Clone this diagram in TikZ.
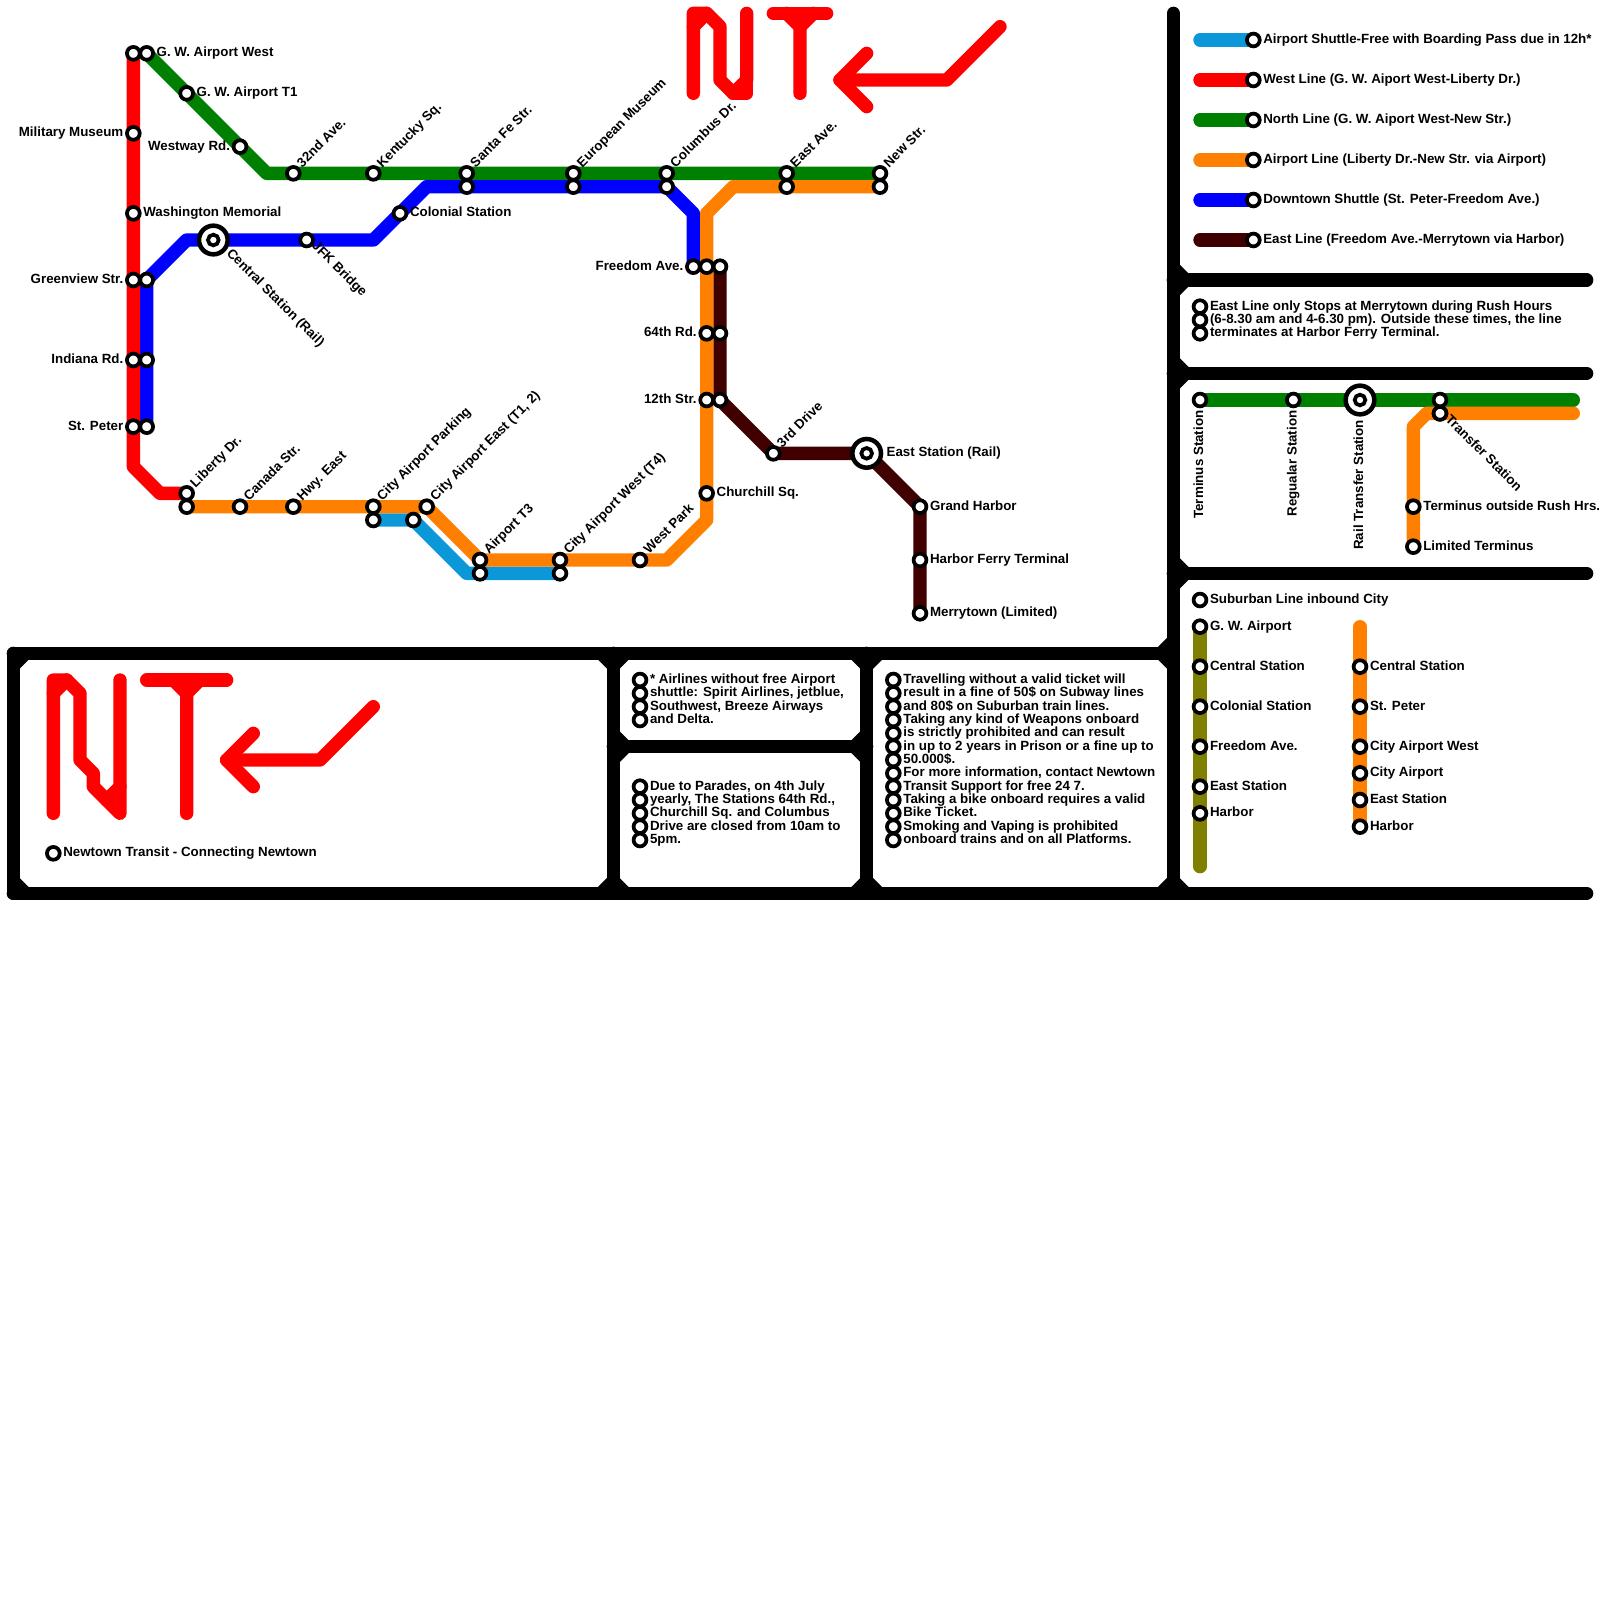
\documentclass[tikz,border=0pt]{standalone}
\usepackage{fontspec}
\setmainfont{Liberation Sans}
\definecolor{cRed}{HTML}{FF0000}
\definecolor{cGreen}{HTML}{008000}
\definecolor{cBlue}{HTML}{0000FF}
\definecolor{cOrange}{HTML}{FF8000}
\definecolor{cBrown}{HTML}{400000}
\definecolor{cShuttle}{HTML}{0C98D8}
\definecolor{cOlive}{HTML}{808000}
\tikzset{
  route/.style={line width=10pt,line cap=round,line join=round},
  frameline/.style={route,draw=black},
  stn/.style={circle,draw=black,fill=white,line width=2.8pt,minimum size=9.6pt,inner sep=0pt,outer sep=0pt},
  hub/.style={circle,draw=black,fill=white,line width=3.4pt,minimum size=21.5pt,inner sep=0pt,outer sep=0pt},
  lab/.style={inner sep=0pt,outer sep=0pt,font=\fontsize{10}{10}\selectfont\bfseries,text=black},
  lblE/.style={lab,anchor=base west,xshift=7.5pt,yshift=-2.6pt},
  lblW/.style={lab,anchor=base east,xshift=-7.5pt,yshift=-2.6pt},
  lblNE/.style={lab,anchor=base west,xshift=6.8pt,yshift=4pt,rotate=45},
  lblSE/.style={lab,anchor=base west,xshift=3.6pt,yshift=-5.1pt,rotate=-45},
  lblS/.style={lab,anchor=base east,xshift=2.4pt,yshift=-8pt,rotate=90},
}
\begin{document}
\begin{tikzpicture}[x=10pt,y=-10pt]
\useasboundingbox (0,0) rectangle (120,120);
\fill[white] (0,0) rectangle (120,120);
% ---------- frame ----------
\foreach \n/\x/\y in {fa/1/49,fb/46/49,fc/65/49,fd/88/49,fe/1/67,ff/46/67,fg/65/67,fh/88/67,fi/119/67,
  fj/88/1,fk/88/21,fl/119/21,fm/88/28,fn/119/28,fo/88/43,fp/119/43,fq/46/56,fr/65/56}
  \coordinate (\n) at (\x,\y);
\draw[frameline] (fj) -- (fh);
\draw[frameline] (fa) -- (fd);
\draw[frameline] (fe) -- (fi);
\draw[frameline] (fa) -- (fe);
\draw[frameline] (fb) -- (ff);
\draw[frameline] (fc) -- (fg);
\draw[frameline] (fq) -- (fr);
\draw[frameline] (fk) -- (fl);
\draw[frameline] (fm) -- (fn);
\draw[frameline] (fo) -- (fp);
\foreach \x/\y/\a/\b in {1/49/1/1,46/49/-1/1,46/49/1/1,65/49/-1/1,65/49/1/1,88/49/-1/1,88/49/-1/-1,
  1/67/1/-1,46/67/-1/-1,46/67/1/-1,65/67/-1/-1,65/67/1/-1,88/67/-1/-1,88/67/1/-1,
  46/56/1/-1,46/56/1/1,65/56/-1/-1,65/56/-1/1,
  88/21/1/-1,88/21/1/1,88/28/1/-1,88/28/1/1,88/43/1/-1,88/43/1/1}
  \fill[black] (\x+\a*0.45,\y+\b*0.45) -- (\x+\a*1.18,\y+\b*0.45) -- (\x+\a*0.45,\y+\b*1.18) -- cycle;
% ---------- logos ----------
\foreach \n/\x/\y in {na/52/7,nb/52/1,nc/53/1,nd/54/2,ne/54/6,nf/55/7,ng/56/6,nh/56/1,ni/56/7,nj/52/2,
  ta/58/1,tb/62/1,tc/60/7,td/60/2,te/59/1,tf/61/1,
  ar/75/2,as/71/6,at/63/6,au/65/4,av/65/8,
  Na/4/61,Nb/4/51,Nc/5/51,Nd/6/52,Ne/6/57,Nf/7/58,Ng/7/59,Nh/9/61,Ni/9/51,Nj/4/52,Nk/8/60,Nl/9/59,
  Ta/11/51,Tb/17/51,Tc/14/61,Td/14/52,Te/13/51,Tf/15/51,
  Ar/28/53,As/24/57,At/17/57,Au/19/55,Av/19/59}
  \coordinate (\n) at (\x,\y);
\draw[route,cRed] (na) -- (nb) -- (nc) -- (nd) -- (ne) -- (nf) -- (ng) -- (nh);
\draw[route,cRed] (nj) -- (nc);
\draw[route,cRed] (nf) -- (ni) -- (ng);
\draw[route,cRed] (ta) -- (tb);
\draw[route,cRed] (tc) -- (td) -- (te);
\draw[route,cRed] (td) -- (tf);
\draw[route,cRed] (ar) -- (as) -- (at);
\draw[route,cRed] (au) -- (at) -- (av);
\draw[route,cRed] (Na) -- (Nb) -- (Nc) -- (Nd) -- (Ne) -- (Nf) -- (Ng) -- (Nh) -- (Ni);
\draw[route,cRed] (Nj) -- (Nc);
\draw[route,cRed] (Nk) -- (Nl);
\draw[route,cRed] (Ta) -- (Tb);
\draw[route,cRed] (Tc) -- (Td) -- (Te);
\draw[route,cRed] (Td) -- (Tf);
\draw[route,cRed] (Ar) -- (As) -- (At);
\draw[route,cRed] (Au) -- (At) -- (Av);
% ---------- coordinates of the network ----------
\foreach \n/\x/\y in {
  gww/10/4,mil/10/10,was/10/16,grv/10/21,ind/10/27,stp/10/32,rbA/10/35,rbB/12/37,lib/14/37,
  gwe/11/4,wT/14/7,wey/18/11,gbA/20/13,nd/22/13,ken/28/13,sfe/35/13,eur/43/13,col/50/13,eav/59/13,nws/66/13,
  bsp/11/32,bin/11/27,bgr/11/21,bbA/14/18,cen/16/18,jfk/23/18,bbB/28/18,cln/30/16,bbC/32/14,bsf/35/14,beu/43/14,bco/50/14,bbD/52/16,fre/52/20,
  lbo/14/38,can/18/38,hwy/22/38,cap/28/38,cae/32/38,aTh/36/42,caw/42/42,wpk/48/42,obA/50/42,obB/53/39,chu/53/37,otw/53/30,osx/53/25,ofr/53/20,obC/53/16,obD/55/14,oea/59/14,ons/66/14,
  shA/28/39,shB/31/39,shC/35/43,shD/36/43,shE/42/43,
  efr/54/20,esx/54/25,etw/54/30,trd/58/34,est/65/34,gha/69/38,hft/69/42,mer/69/46,
  lgA/90/30,lgB/97/30,lgC/102/30,lgD/108/30,lgE/118/30,
  loA/118/31,loD/108/31,loB/107/31,loC/106/32,loF/106/38,loG/106/41,
  suA/90/47,suB/90/50,suC/90/53,suD/90/56,suE/90/59,suF/90/61,suG/90/65,
  orA/102/47,orB/102/50,orC/102/53,orD/102/56,orE/102/58,orF/102/60,orG/102/62}
  \coordinate (\n) at (\x,\y);
% ---------- lines ----------
\draw[route,cShuttle] (shA) -- (shB) -- (shC) -- (shE);
\draw[route,cGreen] (gwe) -- (gbA) -- (nws);
\draw[route,cBlue] (bsp) -- (bgr) -- (bbA) -- (bbB) -- (bbC) -- (bco) -- (bbD) -- (fre);
\draw[route,cRed] (gww) -- (rbA) -- (rbB) -- (lib);
\draw[route,cBrown] (efr) -- (etw) -- (trd) -- (est) -- (gha) -- (mer);
\draw[route,cOrange] (lbo) -- (cae) -- (aTh) -- (obA) -- (obB) -- (obC) -- (obD) -- (ons);
\draw[route,cGreen] (lgA) -- (lgE);
\draw[route,cOrange] (loA) -- (loB) -- (loC) -- (loG);
\draw[route,cOlive] (suA) -- (suG);
\draw[route,cOrange] (orA) -- (orG);
% ---------- legend bars ----------
\foreach \c/\y/\n/\t in {
  cShuttle/3/la/Airport Shuttle-Free with Boarding Pass due in 12h*,
  cRed/6/lb/West Line (G. W. Aiport West-Liberty Dr.),
  cGreen/9/lc/North Line (G. W. Aiport West-New Str.),
  cOrange/12/ld/Airport Line (Liberty Dr.-New Str. via Airport),
  cBlue/15/le/Downtown Shuttle (St. Peter-Freedom Ave.),
  cBrown/18/lf/East Line (Freedom Ave.-Merrytown via Harbor)}{
  \coordinate (\n0) at (90,\y);
  \coordinate (\n1) at (94,\y);
  \draw[route,\c] (\n0) -- (\n1);
  \node[stn] (s\n) at (\n1) {};
  \node[lblE] (t\n) at (\n1) {\t};
}
% ---------- unlabelled stations ----------
\foreach \n in {gww,bgr,bin,bsp,bsf,beu,bco,ofr,efr,esx,etw,oea,ons,lbo,shA,shB,shD,shE,loD}
  \node[stn] (s\n) at (\n) {};
% ---------- hubs ----------
\foreach \n in {cen,est,lgC}
  \node[hub] (h\n) at (\n) {};
% ---------- stations with labels ----------
\foreach \n/\t in {gwe/G. W. Airport West,wT/G. W. Airport T1,was/Washington Memorial,cln/Colonial Station,
  chu/Churchill Sq.,gha/Grand Harbor,hft/Harbor Ferry Terminal,mer/Merrytown (Limited),
  loF/Terminus outside Rush Hrs.,loG/Limited Terminus,
  suA/G. W. Airport,suB/Central Station,suC/Colonial Station,suD/Freedom Ave.,suE/East Station,suF/Harbor,
  orB/Central Station,orC/St. Peter,orD/City Airport West,orE/City Airport,orF/East Station,orG/Harbor}{
  \node[stn] (s\n) at (\n) {};
  \node[lblE] (t\n) at (\n) {\t};
}
\foreach \n/\t in {mil/Military Museum,wey/Westway Rd.,grv/Greenview Str.,ind/Indiana Rd.,stp/St. Peter,
  fre/Freedom Ave.,osx/64th Rd.,otw/12th Str.}{
  \node[stn] (s\n) at (\n) {};
  \node[lblW] (t\n) at (\n) {\t};
}
\foreach \n/\t in {nd/32nd Ave.,ken/Kentucky Sq.,sfe/Santa Fe Str.,eur/European Museum,col/Columbus Dr.,
  eav/East Ave.,nws/New Str.,lib/Liberty Dr.,can/Canada Str.,hwy/Hwy. East,cap/City Airport Parking,
  cae/{City Airport East (T1, 2)},aTh/Airport T3,caw/City Airport West (T4),wpk/West Park,trd/3rd Drive}{
  \node[stn] (s\n) at (\n) {};
  \node[lblNE] (t\n) at (\n) {\t};
}
\node[stn] (sjfk) at (jfk) {};
\node[lblSE] (tjfk) at (jfk) {JFK Bridge};
\node[stn,minimum size=8pt] (scen) at (cen) {};
\node[lab,anchor=base west,xshift=9.6pt,yshift=-10.6pt,rotate=-45] (tcen) at (cen) {Central Station (Rail)};
\node[stn,minimum size=8pt] (sest) at (est) {};
\node[lab,anchor=base west,xshift=15pt,yshift=-2.6pt] (test) at (est) {East Station (Rail)};
% transfer legend
\node[stn] (slgD) at (lgD) {};
\node[stn] (sloT) at (loD) {};
\node[lblSE] (tlgT) at (loD) {Transfer Station};
\node[stn] (slgA) at (lgA) {};
\node[lblS] (tlgA) at (lgA) {Terminus Station};
\node[stn] (slgB) at (lgB) {};
\node[lblS] (tlgB) at (lgB) {Regualar Station};
\node[stn,minimum size=8pt] (slgC) at (lgC) {};
\node[lab,anchor=base east,xshift=2.4pt,yshift=-15pt,rotate=90] (tlgC) at (lgC) {Rail Transfer Station};
% ---------- notes ----------
\foreach \i/\x/\y/\t in {
  a/90/23/East Line only Stops at Merrytown during Rush Hours,
  b/90/24/{(6-8.30 am and 4-6.30 pm). Outside these times, the line},
  c/90/25/terminates at Harbor Ferry Terminal.,
  d/90/45/Suburban Line inbound City,
  e/4/64/Newtown Transit - Connecting Newtown,
  f/48/51/* Airlines without free Airport,
  g/48/52/{shuttle: Spirit Airlines, jetblue,},
  h/48/53/{Southwest, Breeze Airways},
  j/48/54/and Delta.,
  k/48/59/{Due to Parades, on 4th July},
  l/48/60/{yearly, The Stations 64th Rd.,},
  m/48/61/Churchill Sq. and Columbus,
  n/48/62/Drive are closed from 10am to,
  o/48/63/5pm.,
  p/67/51/Travelling without a valid ticket will,
  q/67/52/result in a fine of 50\$ on Subway lines,
  r/67/53/and 80\$ on Suburban train lines.,
  s/67/54/Taking any kind of Weapons onboard,
  t/67/55/is strictly prohibited and can result,
  u/67/56/in up to 2 years in Prison or a fine up to,
  v/67/57/50.000\$.,
  w/67/58/{For more information, contact Newtown},
  x/67/59/Transit Support for free 24 7.,
  y/67/60/Taking a bike onboard requires a valid,
  z/67/61/Bike Ticket.,
  A/67/62/Smoking and Vaping is prohibited,
  B/67/63/onboard trains and on all Platforms.}{
  \node[stn] (nt\i) at (\x,\y) {};
  \node[lblE] (nx\i) at (\x,\y) {\t};
}
\end{tikzpicture}
\end{document}
